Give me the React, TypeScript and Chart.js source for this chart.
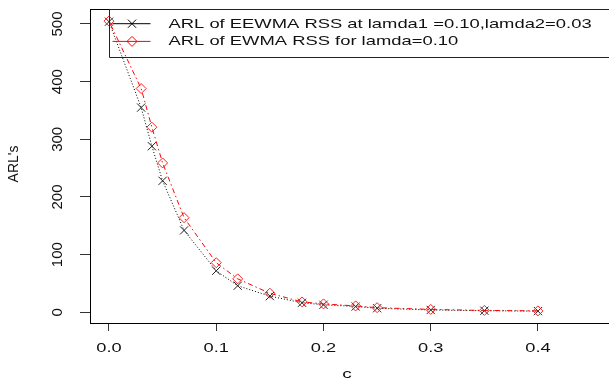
import React, { useEffect, useRef } from 'react';
import { Chart, registerables } from 'chart.js';

Chart.register(...registerables);

// ---- data ----
const shiftValues = [0, 0.03, 0.04, 0.05, 0.07, 0.1, 0.12, 0.15, 0.18, 0.2, 0.23, 0.25, 0.3, 0.35, 0.4];
const eewmaArl = [504, 355, 288, 228, 142, 72, 46, 28, 16.5, 13, 10, 7, 4, 2.7, 2];
const ewmaArl = [505, 388, 321, 259, 164, 86, 58, 33, 18, 14.5, 11, 8, 5, 3.2, 2.4];

const xTickValues = [0, 0.1, 0.2, 0.3, 0.4];
const xTickLabels = ['0.0', '0.1', '0.2', '0.3', '0.4'];
const yTickValues = [0, 100, 200, 300, 400, 500];
const yTickLabels = ['0', '100', '200', '300', '400', '500'];

const seriesLabels = [
  'ARL of EEWMA RSS at lamda1 =0.10,lamda2=0.03',
  'ARL of EWMA RSS for lamda=0.10',
];
const xTitle = 'c';
const yTitle = "ARL's";

const FONT = '"Liberation Sans", Arial, sans-serif';
const SX = 1.46;

function drawStretched(ctx: CanvasRenderingContext2D, text: string, x: number, y: number, size: number, align: CanvasTextAlign) {
  ctx.save();
  ctx.translate(x, y);
  ctx.scale(SX, 1);
  ctx.font = `${size}px ${FONT}`;
  ctx.textAlign = align;
  ctx.textBaseline = 'middle';
  ctx.fillText(text, 0, 0);
  ctx.restore();
}

function drawRotated(ctx: CanvasRenderingContext2D, text: string, x: number, y: number, size: number) {
  ctx.save();
  ctx.translate(x, y);
  ctx.rotate(-Math.PI / 2);
  ctx.font = `${size}px ${FONT}`;
  ctx.textAlign = 'center';
  ctx.textBaseline = 'middle';
  ctx.fillText(text, 0, 0);
  ctx.restore();
}

function crossMark(ctx: CanvasRenderingContext2D, cx: number, cy: number, r: number) {
  const d = r * Math.SQRT1_2;
  ctx.beginPath();
  ctx.moveTo(cx - d, cy - d);
  ctx.lineTo(cx + d, cy + d);
  ctx.moveTo(cx - d, cy + d);
  ctx.lineTo(cx + d, cy - d);
  ctx.stroke();
}

function diamondMark(ctx: CanvasRenderingContext2D, cx: number, cy: number, r: number) {
  ctx.beginPath();
  ctx.moveTo(cx - r, cy);
  ctx.lineTo(cx, cy - r);
  ctx.lineTo(cx + r, cy);
  ctx.lineTo(cx, cy + r);
  ctx.closePath();
  ctx.stroke();
}

const rStylePlugin = {
  id: 'rStyle',
  afterDraw(chart: any) {
    const { ctx, chartArea: a, scales } = chart;
    const xs = scales.x;
    const ys = scales.y;
    ctx.save();
    // top of the box (right side lies beyond the picture)
    ctx.strokeStyle = '#000';
    ctx.lineWidth = 1;
    const top = Math.round(a.top) + 0.5;
    ctx.beginPath();
    ctx.moveTo(a.left, top);
    ctx.lineTo(a.right, top);
    ctx.stroke();

    ctx.fillStyle = '#111';
    // x tick labels
    xTickValues.forEach((v, i) => {
      drawStretched(ctx, xTickLabels[i], xs.getPixelForValue(v), a.bottom + 25.5, 12.5, 'center');
    });
    // y tick labels
    yTickValues.forEach((v, i) => {
      drawRotated(ctx, yTickLabels[i], a.left - 32, ys.getPixelForValue(v), 15);
    });
    // axis titles
    drawStretched(ctx, xTitle, 347, a.bottom + 51, 13, 'center');
    drawRotated(ctx, yTitle, 14, (a.top + a.bottom) / 2 - 2, 14);

    // legend
    const lx = Math.round(xs.getPixelForValue(0)) + 0.5;
    const ly = top;
    const lb = Math.round(a.top + 48) + 0.5;
    ctx.strokeStyle = '#222';
    ctx.beginPath();
    ctx.moveTo(chart.width + 5, ly);
    ctx.lineTo(lx, ly);
    ctx.lineTo(lx, lb);
    ctx.lineTo(chart.width + 5, lb);
    ctx.stroke();

    const rows = [a.top + 14.7, a.top + 32.4];
    const colors = ['#000', '#ff0000'];
    rows.forEach((ry, i) => {
      ctx.strokeStyle = colors[i];
      ctx.lineWidth = 1;
      ctx.beginPath();
      ctx.moveTo(lx + 3, ry);
      ctx.lineTo(lx + 41, ry);
      ctx.stroke();
      if (i === 0) crossMark(ctx, lx + 22.5, ry, 5.8);
      else diamondMark(ctx, lx + 22.5, ry, 5);
      ctx.fillStyle = '#111';
      drawStretched(ctx, seriesLabels[i], lx + 59, ry + 0.5, 12.6, 'left');
    });
    ctx.restore();
  },
};

export default function App() {
  const ref = useRef<HTMLCanvasElement | null>(null);

  useEffect(() => {
    if (!ref.current) return;
    const chart = new Chart(ref.current, {
      type: 'line',
      data: {
        datasets: [
          {
            label: seriesLabels[0],
            data: shiftValues.map((x, i) => ({ x, y: eewmaArl[i] })),
            borderColor: '#000',
            borderWidth: 1,
            borderDash: [1, 2],
            pointStyle: 'crossRot',
            pointRadius: 5.8,
            pointBorderColor: '#222',
            pointBorderWidth: 1,
            pointBackgroundColor: 'rgba(0,0,0,0)',
            fill: false,
            tension: 0,
            order: 2,
          },
          {
            label: seriesLabels[1],
            data: shiftValues.map((x, i) => ({ x, y: ewmaArl[i] })),
            borderColor: '#ff0000',
            borderWidth: 1,
            borderDash: [1.5, 3, 5, 3],
            pointStyle: 'rectRot',
            pointRadius: 5,
            pointBorderColor: '#ff2020',
            pointBorderWidth: 1,
            pointBackgroundColor: 'rgba(0,0,0,0)',
            fill: false,
            tension: 0,
            order: 1,
          },
        ],
      },
      options: {
        animation: false,
        responsive: false,
        maintainAspectRatio: false,
        devicePixelRatio: 1,
        layout: { autoPadding: false, padding: { top: 9, right: 0, left: 0, bottom: 0 } },
        plugins: { legend: { display: false }, tooltip: { enabled: false }, title: { display: false } },
        scales: {
          x: {
            type: 'linear',
            min: -0.0177,
            max: 0.4662,
            afterBuildTicks: (s: any) => {
              s.ticks = xTickValues.map((v) => ({ value: v }));
            },
            afterFit: (s: any) => {
              s.height = 65;
            },
            ticks: { display: false },
            grid: { display: true, drawOnChartArea: false, drawTicks: true, tickLength: 8, color: '#333', lineWidth: 1 },
            border: { display: true, color: '#000', width: 1 },
          },
          y: {
            type: 'linear',
            min: -18.6,
            max: 526,
            afterBuildTicks: (s: any) => {
              s.ticks = yTickValues.map((v) => ({ value: v }));
            },
            afterFit: (s: any) => {
              s.width = 90;
            },
            ticks: { display: false },
            grid: { display: true, drawOnChartArea: false, drawTicks: true, tickLength: 10, color: '#333', lineWidth: 1 },
            border: { display: true, color: '#000', width: 1 },
          },
        },
      },
      plugins: [rStylePlugin],
    } as any);
    return () => chart.destroy();
  }, []);

  return (
    <div style={{ position: 'fixed', left: 0, top: 0, width: 609, height: 388, background: '#fff' }}>
      <canvas ref={ref} width={609} height={388} style={{ display: 'block', width: 609, height: 388 }} />
    </div>
  );
}
